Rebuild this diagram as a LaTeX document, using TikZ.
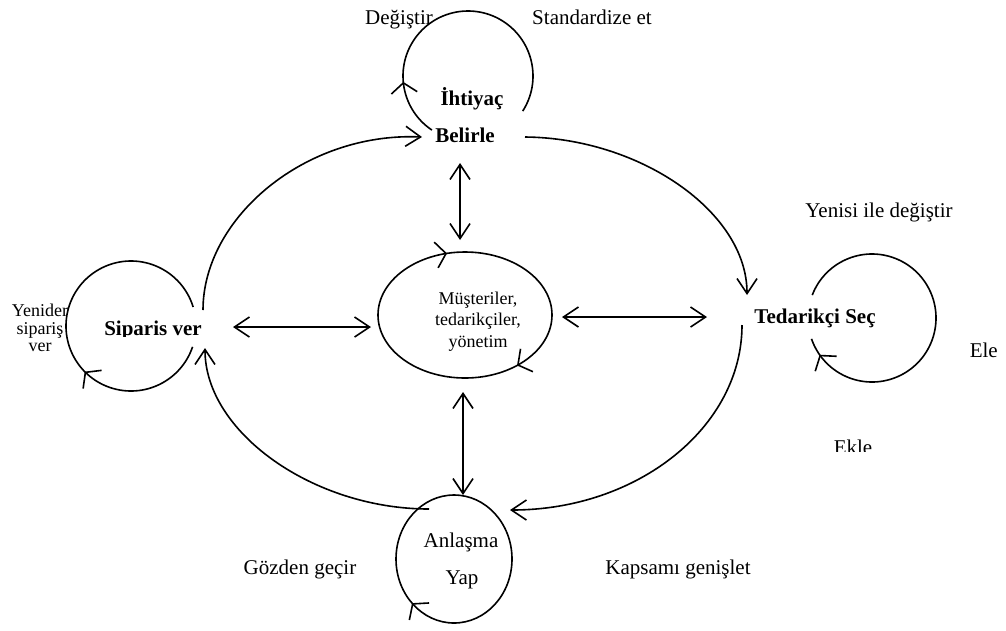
\documentclass[tikz,border=0pt]{standalone}
\usepackage{fontspec}
\setmainfont{Liberation Serif}
\usetikzlibrary{arrows.meta,decorations.markings}
\begin{document}
\begin{tikzpicture}[x=1pt,y=-1pt,
  line width=1.6pt,
  lbl/.style={font=\fontsize{21}{24}\selectfont, inner sep=0pt, anchor=base},
  blbl/.style={lbl, font=\fontsize{21}{24}\selectfont\bfseries},
  smalltxt/.style={font=\fontsize{18}{21}\selectfont, inner sep=0pt, anchor=base},
  onearrow/.style={-{Straight Barb[length=15pt,width=20pt]}},
  twoarrow/.style={{Straight Barb[length=15pt,width=20pt]}-{Straight Barb[length=15pt,width=20pt]}},
  cmark/.style={postaction={decorate}, decoration={markings,
    mark=at position #1 with {\arrow{Straight Barb[length=10pt,width=26pt]}}}}
]
\useasboundingbox (0,0) rectangle (1006,630);

% --- centres of the loops and the core ellipse
\coordinate (ihtc) at (468,76);
\coordinate (sipc) at (131,326);
\coordinate (tedc) at (872,318);
\coordinate (anlc) at (454,559);
\coordinate (corec) at (465,315);

% --- labels
\node[lbl] (deg) at (399,24) {Değiştir};
\node[lbl] (std) at (592,24) {Standardize et};
\node[blbl] (iht) at (472,105) {İhtiyaç};
\node[blbl] (bel) at (465,142) {Belirle};
\node[lbl] (yen) at (879,217) {Yenisi ile değiştir};
\node[blbl] (ted) at (815,323) {Tedarikçi Seç};
\node[lbl, anchor=base west] (ele) at (969,357) {Ele};
\begin{scope}
  \clip (820,420) rectangle (890,451);
  \node[lbl] (ekle) at (853,454) {Ekle};
\end{scope}
\begin{scope}
  \clip (90,300) rectangle (215,336.5);
  \node[blbl] (sip) at (153,335) {Siparis ver};
\end{scope}
\node[smalltxt] (yen1) at (40,316) {Yenider};
\node[smalltxt] (yen2) at (40,334) {sipariş};
\node[smalltxt] (yen3) at (40,351) {ver};
\node[smalltxt] (mus1) at (478,304) {Müşteriler,};
\node[smalltxt] (mus2) at (478,325.5) {tedarikçiler,};
\node[smalltxt] (mus3) at (478,347) {yönetim};
\node[lbl] (anl1) at (461,547) {Anlaşma};
\node[lbl] (anl2) at (462,584) {Yap};
\node[lbl] (goz) at (300,574) {Gözden geçir};
\node[lbl] (kap) at (678,574) {Kapsamı genişlet};

% --- self loops
\draw[cmark=0.19] (ihtc) ++(123.7:65) arc[start angle=123.7, end angle=392.7, radius=65];
\draw[cmark=0.36] (sipc) ++(18.7:65) arc[start angle=18.7, end angle=343, radius=65];
\draw[cmark=0.95] (tedc) ++(201:64) arc[start angle=201, end angle=521, radius=64];
\draw[cmark=0.375] (anlc) ellipse[x radius=58, y radius=64];
\draw[postaction={decorate}, decoration={markings,
    mark=at position 0.136 with {\arrow{Straight Barb[length=10pt,width=26pt]}},
    mark=at position 0.712 with {\arrow{Straight Barb[length=10pt,width=26pt]}}}]
  (corec) ellipse[x radius=87, y radius=63];

% --- end points of the cycle arcs
\coordinate (sipTop) at (203,310);
\coordinate (belIn) at (422,137);
\coordinate (belOut) at (525,137);
\coordinate (tedIn) at (747,295);
\coordinate (tedOut) at (742,325);
\coordinate (anlIn) at (510,510);
\coordinate (anlOut) at (429,509);
\coordinate (sipIn) at (205,348);

% --- cycle
\draw[onearrow] (sipTop) .. controls (203,218) and (305,132) .. (belIn);
\draw[onearrow] (belOut) .. controls (640,138) and (747,212) .. (tedIn);
\draw[onearrow] (tedOut) .. controls (742,427) and (638,510) .. (anlIn);
\draw[onearrow] (anlOut) .. controls (313,509) and (205,432) .. (sipIn);

% --- links to the core
\coordinate (belLow) at (460,163);
\coordinate (coreTop) at (460,240);
\coordinate (coreLow) at (463,392);
\coordinate (anlTop) at (463,495);
\coordinate (sipRight) at (233,327);
\coordinate (coreLeft) at (371,327);
\coordinate (coreRight) at (562,317);
\coordinate (tedLeft) at (707,317);
\draw[twoarrow] (belLow) -- (coreTop);
\draw[twoarrow] (coreLow) -- (anlTop);
\draw[twoarrow] (sipRight) -- (coreLeft);
\draw[twoarrow] (coreRight) -- (tedLeft);
\end{tikzpicture}
\end{document}
